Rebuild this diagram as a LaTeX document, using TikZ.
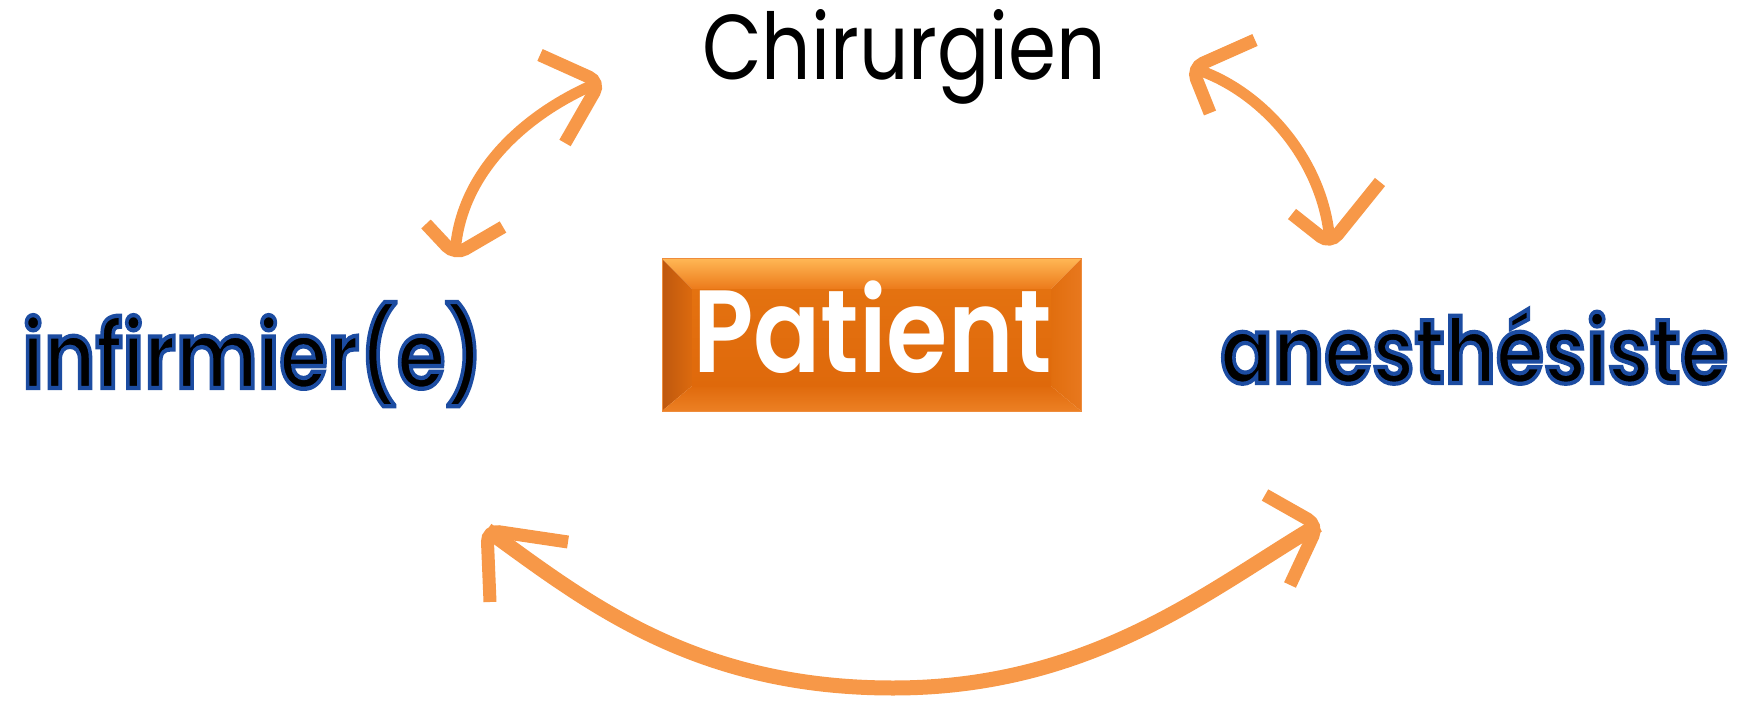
\documentclass[tikz,border=0pt]{standalone}
\usepackage{fontspec}
\setmainfont{Poppins}
\newfontfamily\pbold[BoldFont={Poppins SemiBold}]{Poppins}
\newfontfamily\outl[BoldFont={Poppins SemiBold}, BoldFeatures={FakeBold=4.6}]{Poppins}
\usepackage{graphicx}
\definecolor{arr}{RGB}{247,152,72}
\definecolor{facetop}{RGB}{228,114,16}
\definecolor{facebot}{RGB}{223,105,11}
\definecolor{topA}{RGB}{255,182,84}
\definecolor{topB}{RGB}{236,122,26}
\definecolor{leftA}{RGB}{190,88,14}
\definecolor{leftB}{RGB}{220,106,14}
\definecolor{rightA}{RGB}{225,110,14}
\definecolor{rightB}{RGB}{232,120,30}
\definecolor{botA}{RGB}{224,106,12}
\definecolor{botB}{RGB}{236,128,36}
\definecolor{rim}{RGB}{238,140,60}
% black letters with a dark blue rim (stroke colour set separately)
\newcommand\rimtext[1]{{\color{black}\special{pdf:code 0.11 0.30 0.63 RG}\outl\bfseries #1}}
\tikzset{
  shaft/.style={draw=arr, line width=11pt},
  bigshaft/.style={draw=arr, line width=15pt},
  barb/.style={draw=arr, line width=13pt, rounded corners=12pt, line cap=butt},
  lbl/.style={inner sep=0pt, anchor=base west},
}
\begin{document}
\begin{tikzpicture}[x=1pt,y=-1pt]
\useasboundingbox (0,0) rectangle (1744,703);

% ---------- Patient box (bevelled) ----------
\shade[top color=topA, bottom color=topB]
  (662,259) -- (1081,259) -- (1051,289) -- (692,289) -- cycle;
\shade[left color=leftA, right color=leftB]
  (662,259) -- (692,289) -- (692,386) -- (662,411) -- cycle;
\shade[left color=rightA, right color=rightB]
  (1081,259) -- (1051,289) -- (1051,386) -- (1081,411) -- cycle;
\shade[top color=botA, bottom color=botB]
  (662,411) -- (692,386) -- (1051,386) -- (1081,411) -- cycle;
\shade[top color=facetop, bottom color=facebot] (692,289) rectangle (1051,386);
\draw[rim, line width=1pt] (662,259) rectangle (1081,411);

% ---------- texts ----------
\node[lbl] (chir) at (702,80)
  {\resizebox{404pt}{\height}{\fontsize{92}{100}\selectfont Chirurgien}};
\node[lbl] (inf) at (22,388)
  {\resizebox{461pt}{\height}{\fontsize{93}{100}\selectfont\rimtext{infirmier(e)}}};
\node[lbl] (anes) at (1220,383)
  {\resizebox{508pt}{\height}{\fontsize{91}{100}\selectfont\rimtext{anesthésiste}}};
\node[lbl, text=white] (patient) at (693,372)
  {\resizebox{359pt}{\height}{\fontsize{117}{120}\pbold\bfseries Patient}};

% ---------- arrow coordinates ----------
% Chirurgien <-> infirmier(e)
\coordinate (c1) at (600,82);   \coordinate (i1) at (455,255);
\coordinate (c1a) at (540,55);  \coordinate (c1b) at (565,143);
\coordinate (i1a) at (426,224); \coordinate (i1b) at (503,227);
% Chirurgien <-> anesthesiste
\coordinate (c2) at (1192,68);  \coordinate (a2) at (1330,244);
\coordinate (c2a) at (1255,40); \coordinate (c2b) at (1210,113);
\coordinate (a2a) at (1292,214);\coordinate (a2b) at (1380,182);
% infirmier(e) <-> anesthesiste
\coordinate (i3) at (487,530);  \coordinate (a3) at (1318,525);
\coordinate (i3a) at (568,542); \coordinate (i3b) at (490,602);
\coordinate (a3a) at (1265,495);\coordinate (a3b) at (1290,585);
\coordinate (bot) at (893,688);

% ---------- arrows ----------
\draw[shaft] (c1) .. controls (527,112) and (459,172) .. (i1);
\draw[barb] (c1a) -- (c1) -- (c1b);
\draw[barb] (i1a) -- (i1) -- (i1b);

\draw[shaft] (c2) .. controls (1260,88) and (1325,160) .. (a2);
\draw[barb] (c2a) -- (c2) -- (c2b);
\draw[barb] (a2a) -- (a2) -- (a2b);

\draw[bigshaft] (i3) .. controls (584,600) and (693,688) .. (bot)
  .. controls (1093,688) and (1211,588) .. (a3);
\draw[barb] (i3a) -- (i3) -- (i3b);
\draw[barb] (a3a) -- (a3) -- (a3b);
\end{tikzpicture}
\end{document}
